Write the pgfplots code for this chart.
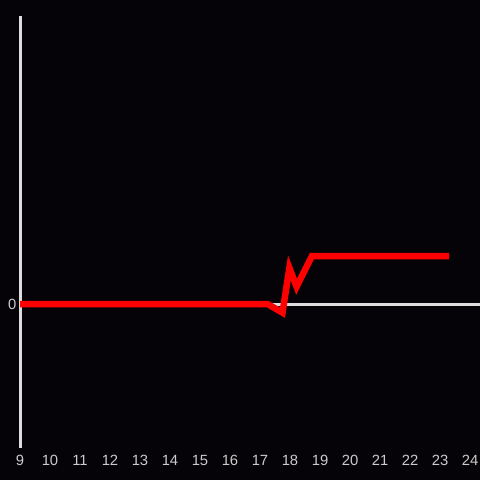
\documentclass[border=0pt]{standalone}
\usepackage{pgfplots}
\pgfplotsset{compat=1.18}
\usepackage{fontspec}
\setmainfont{Liberation Sans}
\definecolor{bg}{HTML}{050307}
\definecolor{axgray}{HTML}{DDDDDD}
\definecolor{lblgray}{HTML}{CCCCCC}
\begin{document}
\begin{tikzpicture}[x=1pt,y=1pt]
\fill[bg] (0,0) rectangle (480,480);
\begin{axis}[
  at={(20pt,32pt)}, anchor=south west,
  scale only axis, width=460pt, height=432pt,
  xmin=9, xmax=24.3333, ymin=-1, ymax=2,
  axis lines*=left,
  x axis line style={draw=none},
  y axis line style={draw=axgray, line width=3pt, -},
  xtick={9,10,...,24}, ytick={0},
  major tick length=0pt,
  tick style={draw=none},
  ticklabel style={text=lblgray, font=\fontsize{14.8}{16}\selectfont},
  /pgf/number format/assume math mode=true,
  xticklabel style={yshift=-4pt},
  clip=false,
]
\draw[axgray, line width=3pt] (axis cs:9,0) -- (axis cs:24.3333,0);
\addplot[color=red, line width=6.5pt, mark=none] coordinates {
(9,0) (17.25,0) (17.75,-0.06) (17.98,0.25) (18.22,0.12) (18.73,0.333) (23.3,0.333)
};
\end{axis}
\pgfresetboundingbox
\useasboundingbox (0,0) rectangle (480,480);
\end{tikzpicture}
\end{document}
